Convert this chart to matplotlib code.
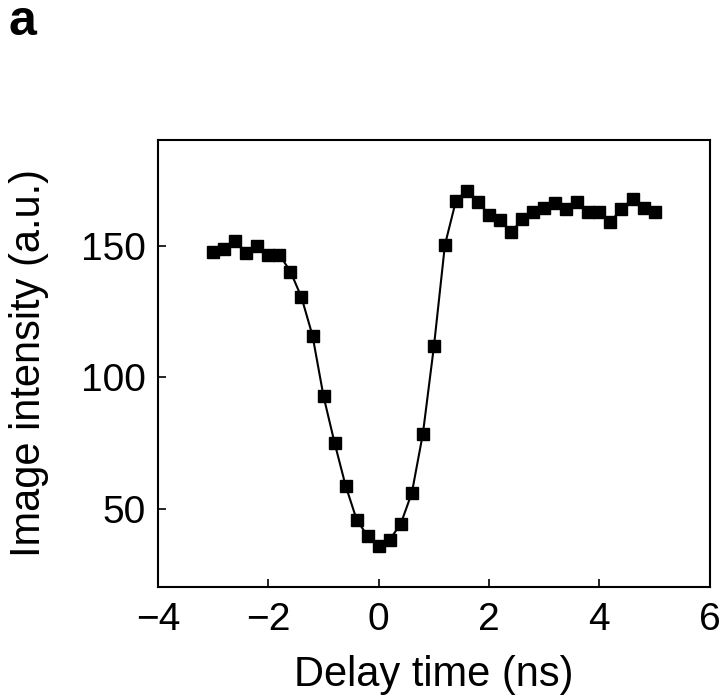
import matplotlib
matplotlib.use("Agg")
import matplotlib.pyplot as plt

delay_ns = [-3.0, -2.8, -2.6, -2.4, -2.2, -2.0, -1.8, -1.6, -1.4, -1.2,
            -1.0, -0.8, -0.6, -0.4, -0.2, 0.0, 0.2, 0.4, 0.6, 0.8,
            1.0, 1.2, 1.4, 1.6, 1.8, 2.0, 2.2, 2.4, 2.6, 2.8,
            3.0, 3.2, 3.4, 3.6, 3.8, 4.0, 4.2, 4.4, 4.6, 4.8, 5.0]
intensity = [147.8, 148.7, 152.0, 147.2, 150.0, 146.6, 146.6, 140.2, 130.4, 115.8,
             92.7, 75.0, 58.7, 45.8, 39.5, 35.7, 38.2, 44.3, 56.0, 78.5,
             111.7, 150.4, 167.2, 171.0, 166.8, 161.8, 159.9, 155.1, 160.2, 162.7,
             164.4, 166.2, 164.0, 166.7, 162.7, 162.7, 159.2, 164.0, 167.8, 164.3, 163.0]
x_ticks = [-4, -2, 0, 2, 4, 6]
y_ticks = [50, 100, 150]

plt.rcParams['font.family'] = ['Liberation Sans', 'DejaVu Sans']

fig = plt.figure(figsize=(7.25, 6.96), dpi=100)
ax = fig.add_axes([0.218, 0.157, 0.761, 0.642])
ax.plot(delay_ns, intensity, color='black', lw=1.5, marker='s', ms=8.5,
        markerfacecolor='black', markeredgecolor='black')
ax.set_xlim(-4, 6)
ax.set_ylim(20.3, 190.3)
ax.set_xticks(x_ticks)
ax.set_xticklabels([str(t).replace('-', '\u2212') for t in x_ticks])
ax.set_yticks(y_ticks)
ax.tick_params(direction='in', length=6, width=1.2, labelsize=28)
ax.tick_params(axis='x', pad=11)
ax.tick_params(axis='y', pad=9)
for s in ax.spines.values():
    s.set_linewidth(1.5)
ax.set_xlabel('Delay time (ns)', fontsize=30, labelpad=12)
ax.set_ylabel('Image intensity (a.u.)', fontsize=30, labelpad=23)
fig.text(0.012, 0.968, 'a', fontsize=36, fontweight='bold', va='center', ha='left')
fig.savefig('out.png', dpi=100)
